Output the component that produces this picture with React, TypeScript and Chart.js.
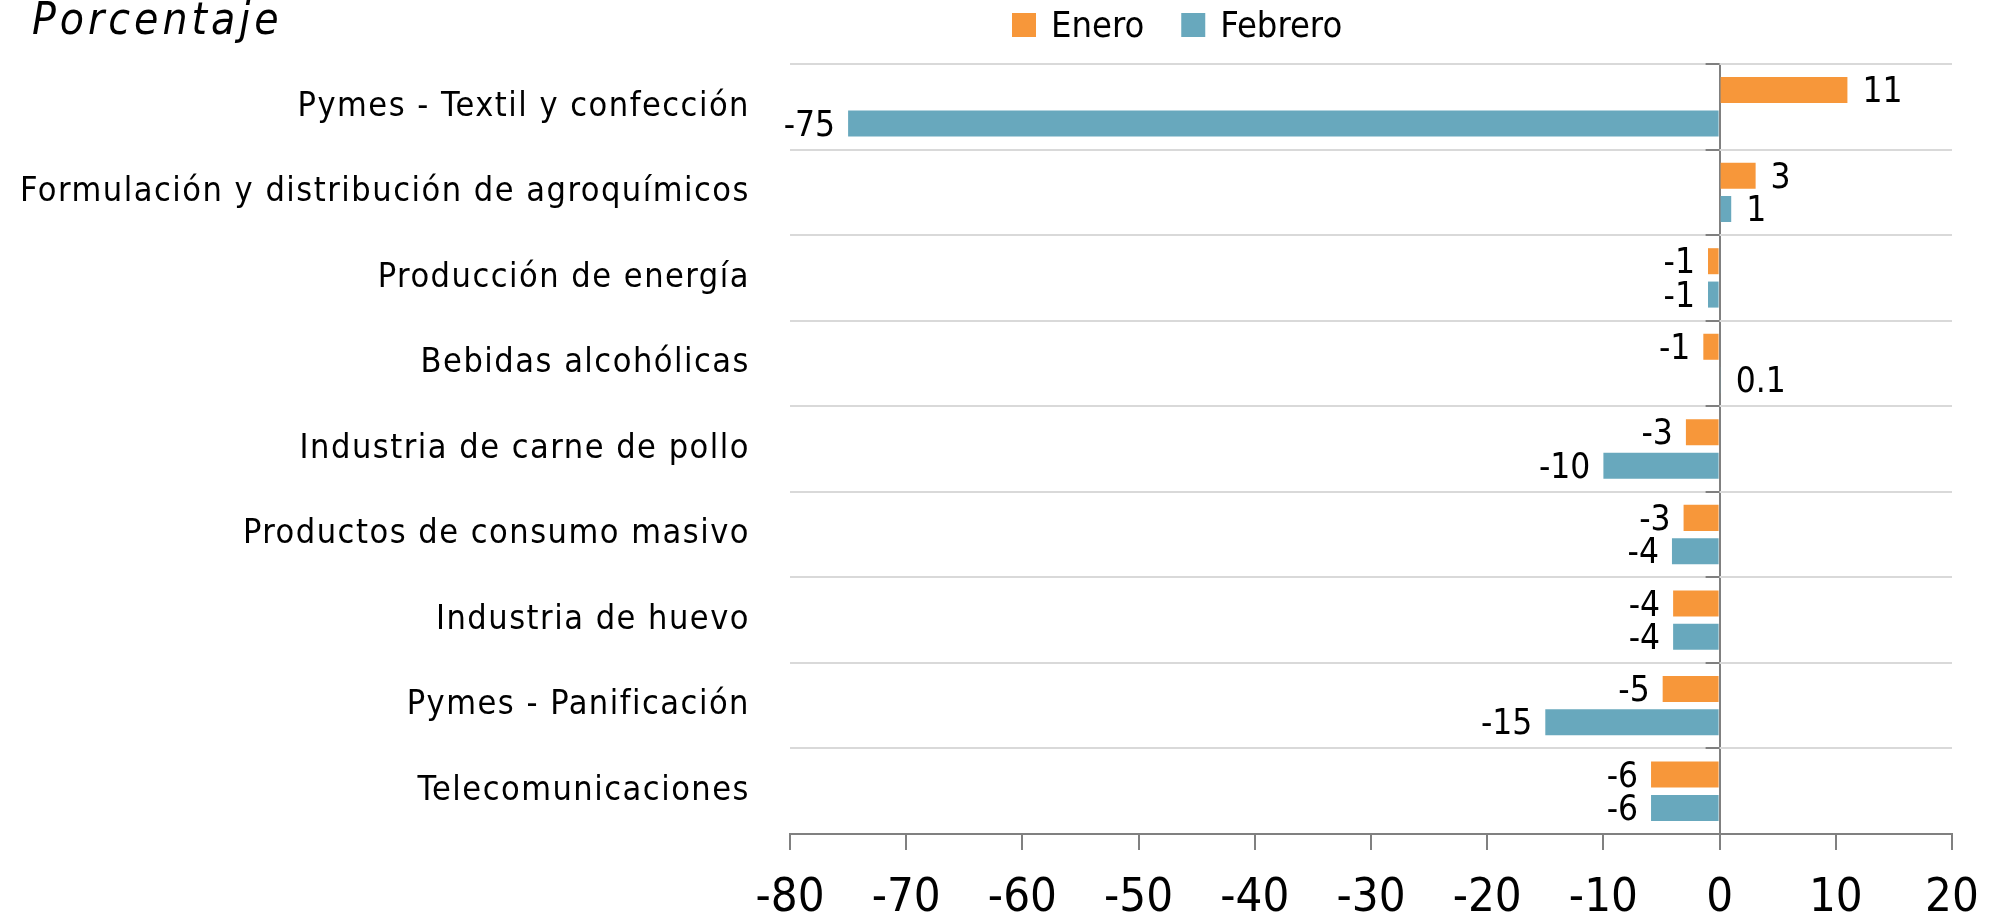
import React, { useEffect, useRef } from "react";
import { Chart, registerables } from "chart.js";

Chart.register(...registerables);

const FONT = "'Liberation Sans Narrow', 'Arial Narrow', 'DejaVu Sans Condensed', sans-serif";

const categories = [
  "Pymes - Textil y confección",
  "Formulación y distribución de agroquímicos",
  "Producción de energía",
  "Bebidas alcohólicas",
  "Industria de carne de pollo",
  "Productos de consumo masivo",
  "Industria de huevo",
  "Pymes - Panificación",
  "Telecomunicaciones",
];
const eneroValues = [11.0, 3.1, -1.0, -1.4, -2.9, -3.1, -4.0, -4.9, -5.9];
const febreroValues = [-75.0, 1.0, -1.0, 0.1, -10.0, -4.1, -4.0, -15.0, -5.9];
const seriesLabels = ["Enero", "Febrero"];
const seriesColors = ["#F7973A", "#68A8BD"];
const xMin = -80;
const xMax = 20;
const xStep = 10;
const chartTitle = "Porcentaje";

function fmt(v: number): string {
  return Math.abs(v) >= 0.5 ? String(Math.round(v)) : v.toFixed(1);
}

const overlayPlugin = {
  id: "overlay",
  beforeDraw(chart: any) {
    chart.ctx.letterSpacing = "0px";
  },
  afterDatasetsDraw(chart: any) {
    const ctx = chart.ctx;
    const xs = chart.scales.x;
    const ys = chart.scales.y;
    ctx.save();
    // small ticks on the zero line at category boundaries
    const x0 = xs.getPixelForValue(0);
    ctx.strokeStyle = "#808080";
    ctx.lineWidth = 2;
    for (let i = 0; i <= categories.length; i++) {
      const py = Math.round(ys.getPixelForValue(i - 0.5));
      ctx.beginPath();
      ctx.moveTo(x0 - 14, py);
      ctx.lineTo(x0, py);
      ctx.stroke();
    }
    // data labels
    ctx.font = `35px ${FONT}`;
    ctx.letterSpacing = "0px";
    ctx.fillStyle = "#000";
    ctx.textBaseline = "middle";
    chart.data.datasets.forEach((ds: any, di: number) => {
      const meta = chart.getDatasetMeta(di);
      meta.data.forEach((el: any, i: number) => {
        const v = ds.data[i];
        const p = el.getProps(["x", "y"], true);
        if (v >= 0) {
          ctx.textAlign = "left";
          ctx.fillText(fmt(v), p.x + 15, p.y + 3);
        } else {
          ctx.textAlign = "right";
          ctx.fillText(fmt(v), p.x - 13, p.y + 3);
        }
      });
    });
    // title
    ctx.textAlign = "left";
    ctx.textBaseline = "alphabetic";
    ctx.font = `italic 44px ${FONT}`;
    ctx.letterSpacing = "4px";
    ctx.fillText(chartTitle, 32, 34);
    // legend
    ctx.font = `36px ${FONT}`;
    ctx.letterSpacing = "0px";
    let lx = 1012;
    chart.data.datasets.forEach((ds: any) => {
      ctx.fillStyle = ds.backgroundColor;
      ctx.fillRect(lx, 13, 24, 24);
      ctx.fillStyle = "#000";
      ctx.fillText(ds.label, lx + 39, 37);
      lx += 39 + ctx.measureText(ds.label).width + 37;
    });
    ctx.restore();
    ctx.letterSpacing = "1.5px";
  },
  afterDraw(chart: any) {
    chart.ctx.letterSpacing = "0px";
  },
};

export default function App() {
  const ref = useRef<HTMLCanvasElement | null>(null);
  useEffect(() => {
    document.body.style.margin = "0";
    const canvas = ref.current;
    if (!canvas) return;
    const chart = new Chart(canvas, {
      type: "bar",
      data: {
        labels: categories,
        datasets: [
          {
            label: seriesLabels[0],
            data: eneroValues,
            backgroundColor: seriesColors[0],
            borderWidth: 0,
            categoryPercentage: 0.78,
            barPercentage: 0.78,
          },
          {
            label: seriesLabels[1],
            data: febreroValues,
            backgroundColor: seriesColors[1],
            borderWidth: 0,
            categoryPercentage: 0.78,
            barPercentage: 0.78,
          },
        ],
      },
      options: {
        indexAxis: "y",
        animation: false,
        responsive: false,
        maintainAspectRatio: false,
        layout: { padding: { top: 64, right: 41, left: 0, bottom: 0 } },
        plugins: {
          legend: { display: false },
          title: { display: false },
          tooltip: { enabled: false },
        },
        scales: {
          x: {
            min: xMin,
            max: xMax,
            ticks: {
              stepSize: xStep,
              font: { size: 47, family: FONT },
              color: "#000",
              padding: 21,
            },
            grid: {
              color: (c: any) => (c.tick && c.tick.value === 0 ? "#808080" : "rgba(0,0,0,0)"),
              lineWidth: 2,
              tickLength: 16,
              tickColor: "#808080",
              tickWidth: 2,
            },
            border: { color: "#808080", width: 2 },
            afterFit: (s: any) => {
              s.height = 86;
              s.paddingLeft = 0;
              s.paddingRight = 0;
            },
          },
          y: {
            ticks: {
              font: { size: 34, family: FONT },
              color: "#000",
              padding: 40,
              z: 1,
            },
            grid: {
              color: (c: any) => (c.type === "tick" ? "#d9d9d9" : "rgba(0,0,0,0)"),
              lineWidth: 2,
              drawTicks: false,
              offset: true,
            },
            border: { display: false },
            afterFit: (s: any) => {
              s.width = 790;
            },
          },
        },
      },
      plugins: [overlayPlugin],
    } as any);
    return () => chart.destroy();
  }, []);
  return <canvas ref={ref} width={1993} height={920} style={{ display: "block" }} />;
}
